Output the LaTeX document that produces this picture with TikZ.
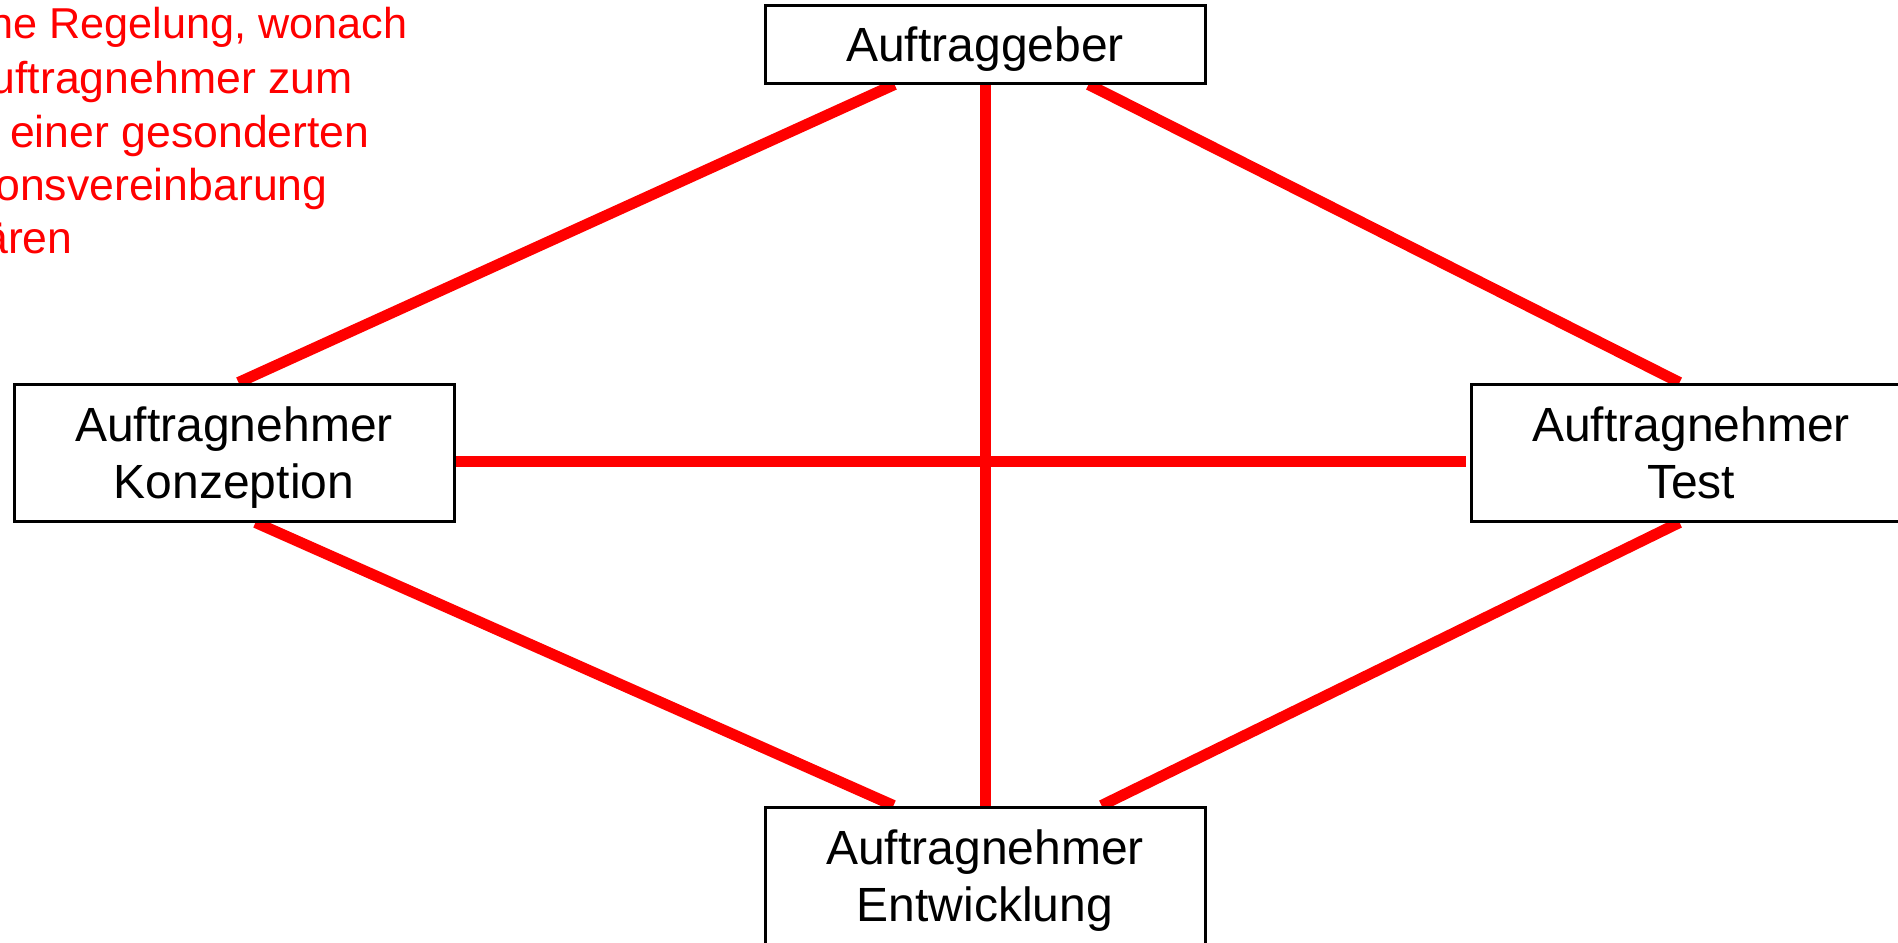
\documentclass[tikz,border=0pt]{standalone}
\usepackage{fontspec}
\setmainfont{Liberation Sans}
\usetikzlibrary{calc}
\definecolor{linered}{RGB}{255,0,0}
\pgfdeclarelayer{background}
\pgfsetlayers{background,main}
\tikzset{
  box/.style={draw=black, line width=1.5pt, fill=white, minimum width=220pt, inner sep=0pt,
    text depth=0pt, align=center, font=\fontsize{24}{28.85}\selectfont},
  tallbox/.style={box, minimum height=68.5pt},
  link/.style={draw=linered, line width=5.5pt},
  note/.style={text=linered, inner sep=0pt, anchor=base east, font=\fontsize{22.3}{27}\selectfont}
}
\begin{document}
\begin{tikzpicture}[x=0.5pt, y=-0.5pt]
\clip (0,0) rectangle (1898,942);
\useasboundingbox (0,0) rectangle (1898,942);

% note text (cut at left edge)
\node[note, font=\fontsize{21.6}{27}\selectfont] (n1) at (408,38) {ne Regelung, wonach};
\node[note] (n2) at (353,93) {uftragnehmer zum};
\node[note] (n3) at (370,147) {einer gesonderten};
\node[note] (n4) at (328,200) {onsvereinbarung};
\node[note] (n5) at (73,253) {ären};

% boxes
\node[box, minimum height=39pt] (top) at (985,44) {Auftraggeber};
\node[tallbox] (left) at (234,452.5) {Auftragnehmer\\Konzeption};
\node[tallbox] (right) at (1691,452.5) {Auftragnehmer\\Test};
\node[tallbox] (bot) at (985,875.5) {Auftragnehmer\\Entwicklung};

% links
\begin{pgfonlayer}{background}
\path[link] ($(top.south west)+(131,0)$) -- ($(left.north west)+(226,0)$);
\path[link] ($(top.south west)+(325,0)$) -- ($(right.north west)+(210,0)$);
\path[link] ($(left.south west)+(243,0)$) -- ($(bot.north west)+(130,0)$);
\path[link] ($(right.south west)+(210,0)$) -- ($(bot.north west)+(338,0)$);
\path[link] (top.south) -- (bot.north);
\path[link] ($(left.east)+(0,8.5)$) -- ($(right.west)+(-4,8.5)$);
\end{pgfonlayer}
\end{tikzpicture}
\end{document}
